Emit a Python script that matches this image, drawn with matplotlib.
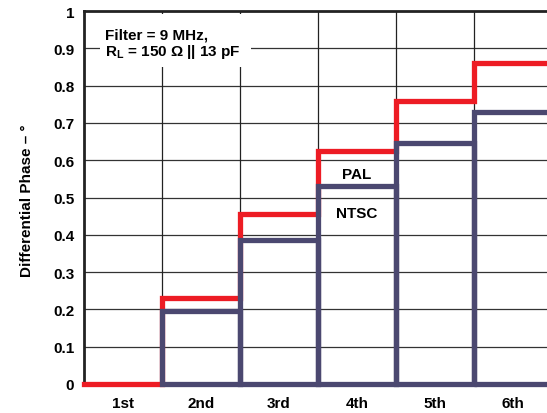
import numpy as np
import matplotlib.pyplot as plt
from matplotlib.patches import Rectangle

plt.rcParams['font.family'] = ['Liberation Sans', 'DejaVu Sans']
plt.rcParams['font.weight'] = 'bold'
plt.rcParams['mathtext.fontset'] = 'custom'
plt.rcParams['mathtext.rm'] = 'Liberation Sans:bold'
plt.rcParams['mathtext.bf'] = 'Liberation Sans:bold'

harmonics = ['1st', '2nd', '3rd', '4th', '5th', '6th']
pal = [0.0, 0.23, 0.455, 0.625, 0.76, 0.86]
ntsc = [0.0, 0.195, 0.385, 0.53, 0.645, 0.73]
y_ticks = [0, 0.1, 0.2, 0.3, 0.4, 0.5, 0.6, 0.7, 0.8, 0.9, 1]
y_labels = ['0', '0.1', '0.2', '0.3', '0.4', '0.5', '0.6', '0.7', '0.8', '0.9', '1']

red = '#ED1C24'
navy = '#4B4870'
fs = 11

W, H = 547, 414
fig = plt.figure(figsize=(W / 100, H / 100), dpi=100)
ax = fig.add_axes([84 / W, 1 - 385 / H, (552 - 84) / W, (385 - 12) / H])

n = len(harmonics)
x = np.arange(n)

# PAL as a staircase
ax.step(np.arange(n + 1), pal + [pal[-1]], where='post', color=red, lw=3.8,
        zorder=3, clip_on=False, solid_joinstyle='miter')

# NTSC as outlined bars (skip zero height)
ntsc_arr = np.array(ntsc)
mask = ntsc_arr > 0
ax.bar(x[mask] + 0.5, ntsc_arr[mask], width=1.0, facecolor='none',
       edgecolor=navy, lw=3.8, zorder=4, clip_on=False)

ax.set_xlim(0, n)
ax.set_ylim(0, 1)
ax.set_xticks(x + 0.5)
ax.set_xticklabels(harmonics, fontsize=fs, fontweight='bold')
ax.set_yticks(y_ticks)
ax.set_yticklabels(y_labels, fontsize=fs, fontweight='bold')
ax.tick_params(axis='both', length=0)
ax.tick_params(axis='y', pad=7)
ax.tick_params(axis='x', pad=9)

for v in y_ticks[1:-1]:
    ax.axhline(v, color='#333333', lw=0.9, zorder=1)
for b in range(1, n):
    ax.axvline(b, color='#222222', lw=0.9, zorder=1)

for s in ['right', 'bottom']:
    ax.spines[s].set_visible(False)
ax.spines['top'].set_linewidth(2)
ax.spines['left'].set_linewidth(2)
ax.spines['top'].set_color('#222222')
ax.spines['left'].set_color('#222222')
ax.axhline(0, color='#222222', lw=1.5, zorder=2)

# white patch behind the condition note
ax.add_patch(Rectangle((0.034, 0.85), 0.322, 0.142, transform=ax.transAxes,
                       facecolor='white', edgecolor='none', zorder=4.5))
ax.text(0.27, 0.955, 'Filter = 9 MHz,\nR$_{\\mathbf{L}}$ = 150 \u03a9 || 13 pF',
        fontsize=fs, fontweight='bold', va='top', ha='left', linespacing=1.0,
        zorder=5)

ax.text(3.5, 0.563, 'PAL', fontsize=fs, fontweight='bold', ha='center', va='center', zorder=5)
ax.text(3.5, 0.458, 'NTSC', fontsize=fs, fontweight='bold', ha='center', va='center', zorder=5)

fig.text(27 / W, 1 - 201 / H, 'Differential Phase \u2013 \u00b0', rotation=90,
         fontsize=fs, fontweight='bold', ha='center', va='center')

fig.savefig('out.png', dpi=100)
